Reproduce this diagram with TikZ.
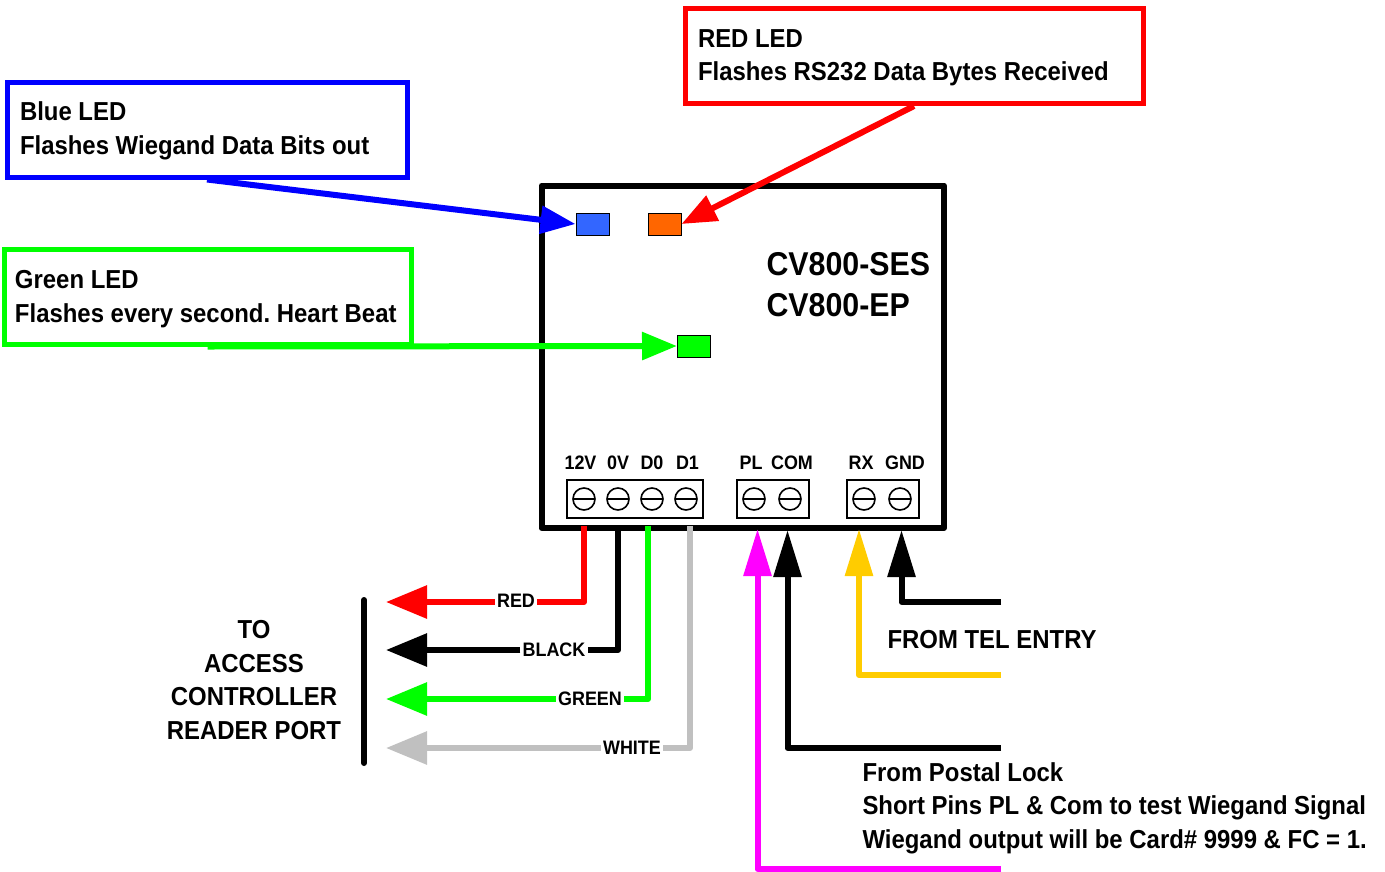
\documentclass[tikz,border=0pt]{standalone}
\usepackage{fontspec}
\setmainfont[FakeStretch=0.92]{Liberation Sans}
\frenchspacing
\usetikzlibrary{arrows.meta}
\usetikzlibrary{positioning}
\definecolor{ledblue}{HTML}{3366FF}
\definecolor{ledorange}{HTML}{FF6600}
\definecolor{wirered}{HTML}{FF0000}
\definecolor{wiregreen}{HTML}{00FF00}
\definecolor{wiregray}{HTML}{C0C0C0}
\definecolor{wireyellow}{HTML}{FFCC00}
\definecolor{wirepink}{HTML}{FF00FF}
\tikzset{
    every node/.append style={
        font=\fontsize{26}{33.5}\selectfont\bfseries
    },
    callout/.style={
        draw,
        line width=5pt,
        align=flush left,
        inner sep=0pt,
        minimum height=95pt,
        execute at begin node={\rule{0pt}{#1}}
    },
    callout/.default=21pt,
    led/.style={
        draw=black,
        line width=1pt,
        minimum width=33pt,
        minimum height=22pt,
        inner sep=0pt
    },
    block/.style={
        draw=black,
        line width=1.6pt,
        minimum height=38pt,
        inner sep=0pt
    },
    screw/.style={
        draw=black,
        circle,
        line width=1.6pt,
        minimum size=22pt,
        inner sep=0pt,
        path picture={\draw[line width=1.6pt] (path picture bounding box.west) -- (path picture bounding box.east);}
    },
    pin label/.style={
        font=\fontsize{19.5}{24}\selectfont\bfseries,
        inner sep=0pt
    },
    wire/.style={
        line width=6pt,
        line join=round
    },
    out arrow/.style={
        wire,
        -{Triangle[length=41pt,width=32pt]}
    },
    in arrow/.style={
        wire,
        -{Triangle[length=47pt,width=27pt]}
    },
    led arrow/.style={
        line width=6pt,
        -{Triangle[length=35pt,width=27pt]}
    },
    wire label/.style={
        font=\fontsize{19.5}{24}\selectfont\bfseries,
        fill=white,
        inner xsep=2pt,
        inner ysep=1pt
    }
}

\begin{document}
\begin{tikzpicture}[x=1pt,y=-1pt]
    \useasboundingbox (0,0) rectangle (1385,871);

    \draw[line width=6pt,line join=round] (541.5,185.5) rectangle (944,528);

    \node[callout, draw=blue, minimum width=400pt, text width=374pt] (blue box) at (207,129.5) {Blue LED\\Flashes Wiegand Data Bits out};
    \node[callout, draw=wirered, minimum width=458pt, text width=432pt] (red box) at (914,56) {RED LED\\Flashes RS232 Data Bytes Received};
    \node[callout=23pt, draw=wiregreen, minimum width=407pt, text width=385pt] (green box) at (207.5,296.5) {Green LED\\Flashes every second. Heart Beat};

    \node[led, fill=ledblue] (blue led) at (592.5,224) {};
    \node[led, fill=ledorange] (red led) at (664.5,224) {};
    \node[led, fill=wiregreen] (green led) at (694,346) {};

    \node[anchor=west, font=\fontsize{33}{41}\selectfont\bfseries, align=left] (model) at (763,284.5) {CV800-SES\\CV800-EP};

    \node[block, minimum width=136pt] (reader block) at (635,499) {};
    \node[block, minimum width=72pt] (lock block) at (773,499) {};
    \node[block, minimum width=72pt] (serial block) at (883,499) {};

    \node[screw] (s12v) at (584,499) {};
    \node[screw] (s0v) at (618,499) {};
    \node[screw] (sd0) at (652,499) {};
    \node[screw] (sd1) at (686,499) {};
    \node[screw] (spl) at (754,499) {};
    \node[screw] (scom) at (790,499) {};
    \node[screw] (srx) at (864,499) {};
    \node[screw] (sgnd) at (900,499) {};

    \node[pin label] (l12v) at (580.5,463) {12V};
    \node[pin label] (l0v) at (618,463) {0V};
    \node[pin label] (ld0) at (652,463) {D0};
    \node[pin label] (ld1) at (687.5,463) {D1};
    \node[pin label] (lpl) at (751,463) {PL};
    \node[pin label] (lcom) at (792,463) {COM};
    \node[pin label] (lrx) at (861,463) {RX};
    \node[pin label] (lgnd) at (905,463) {GND};

    \node[wire label] (lred) at (516,600.5) {RED};
    \node[wire label] (lblack) at (554,649.5) {BLACK};
    \node[wire label] (lgreen) at (590,698.5) {GREEN};
    \node[wire label] (lwhite) at (632,747.5) {WHITE};

    \coordinate (w12v) at (584,526);
    \coordinate (w0v) at (618,526);
    \coordinate (wd0) at (648,526);
    \coordinate (wd1) at (690,526);
    \coordinate (tred) at (386,602);
    \coordinate (tblack) at (386,650);
    \coordinate (tgreen) at (386,699);
    \coordinate (twhite) at (386,748);

    \draw[wire, wirered] (w12v) |- (lred.east |- tred);
    \draw[wire] (w0v) |- (lblack.east |- tblack);
    \draw[wire, wiregreen] (wd0) |- (lgreen.east |- tgreen);
    \draw[wire, wiregray] (wd1) |- (lwhite.east |- twhite);
    \draw[out arrow, wirered] (lred.west |- tred) -- (tred);
    \draw[out arrow] (lblack.west |- tblack) -- (tblack);
    \draw[out arrow, wiregreen] (lgreen.west |- tgreen) -- (tgreen);
    \draw[out arrow, wiregray] (lwhite.west |- twhite) -- (twhite);

    \coordinate (bar top) at (364,600);
    \coordinate (bar end) at (364,763);
    \draw[line width=6pt, line cap=round] (bar top) -- (bar end);
    \node[align=center] (access) at (254,680) {TO\\ACCESS\\CONTROLLER\\READER PORT};

    \coordinate (fpink) at (1001,869);
    \coordinate (fpl) at (1001,748);
    \coordinate (fyellow) at (1001,675);
    \coordinate (ftel) at (1001,602);
    \coordinate (tpink) at (757.5,529);
    \coordinate (tcom) at (787.5,530);
    \coordinate (tyellow) at (859,529);
    \coordinate (tgnd) at (901.5,530);
    \draw[in arrow, wirepink] (fpink) -| (tpink);
    \draw[in arrow] (fpl) -| (tcom);
    \draw[in arrow, wireyellow] (fyellow) -| (tyellow);
    \draw[in arrow] (ftel) -| (tgnd);

    \node[anchor=west] (tel entry) at (884,640) {FROM TEL ENTRY};
    \node[anchor=west, align=left] (postal) at (859,808) {From Postal Lock\\Short Pins PL \& Com to test Wiegand Signal\\Wiegand output will be Card\# 9999 \& FC = 1.};

    \draw[led arrow, blue] (blue box.south) -- (blue led.west);
    \draw[led arrow, wirered] (red box.south) -- (red led.east);
    \draw[led arrow, wiregreen] (green box.south) -- (green led.west);
\end{tikzpicture}
\end{document}
